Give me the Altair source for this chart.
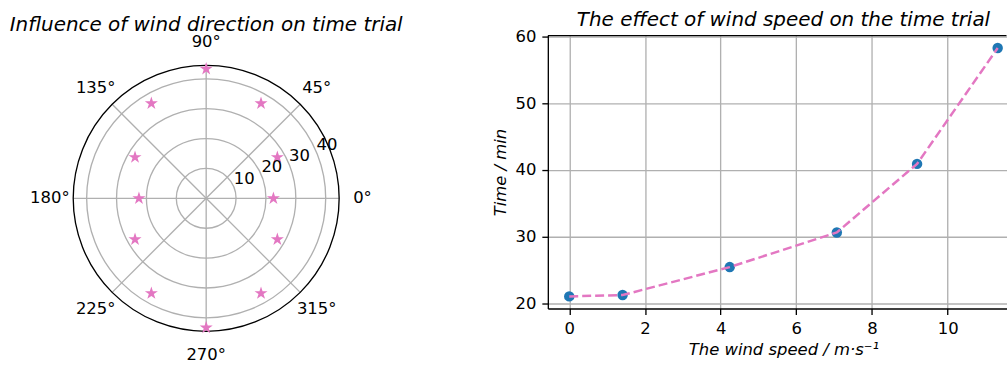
import math
import altair as alt
import pandas as pd

# ---------------- data ----------------
# left: polar plot (wind direction -> time)
dir_angles = [0, 30, 60, 90, 120, 150, 180, 210, 240, 270, 300, 330]
dir_times = [22.5, 27.5, 36.7, 43.3, 36.7, 27.5, 22.5, 27.5, 36.7, 43.3, 36.7, 27.5]
r_ticks = [10, 20, 30, 40]
r_tick_labels = ["10", "20", "30", "40"]
r_label_angle = [22.5, 22.5, 22.5, 22.5]
theta_ticks = [0, 45, 90, 135, 180, 225, 270, 315]
theta_tick_labels = ["0°", "45°", "90°", "135°", "180°", "225°", "270°", "315°"]
r_max = [44.5]
theta_label_r = [52.3] * 8

# right: wind speed -> time
speeds = [0.0, 1.41, 4.24, 7.07, 9.19, 11.32]
times = [21.0, 21.2, 25.4, 30.6, 40.9, 58.3]
x_ticks = [0, 2, 4, 6, 8, 10]
y_ticks = [20, 30, 40, 50, 60]

# ---------------- style ----------------
FONT = "DejaVu Sans"
GRID = "#b0b0b0"
AX = "#000000"
PINK = "#e377c2"
BLUE = "#1f77b4"
TXT = "#000000"
PX = 3.0  # pixels per radial unit
WP, HP = 400, 326.8
R = r_max[0]
CW, CH = 460.5, 274

# 5-pointed star symbol path
pts = []
for k in range(10):
    a = math.radians(-90 + 36 * k)
    rr = 1.0 if k % 2 == 0 else 0.382
    pts.append(f"{rr*math.cos(a):.4f},{rr*math.sin(a):.4f}")
STAR = "M" + " L".join(pts) + " Z"

xs_p = alt.Scale(domain=[-WP / 2 / PX, WP / 2 / PX], nice=False, zero=False)
ys_p = alt.Scale(domain=[-HP / 2 / PX, HP / 2 / PX], nice=False, zero=False)
rscale = alt.Scale(type="linear", domain=[0, R], range=[0, R * PX], zero=True, nice=False)

ring_df = pd.DataFrame({"r": r_ticks})
outer_df = pd.DataFrame({"r": r_max})
spoke_df = pd.DataFrame({"angle": theta_ticks, "r": [R] * len(theta_ticks)})
star_df = pd.DataFrame({"angle": dir_angles, "r": dir_times})
alab_df = pd.DataFrame({"angle": theta_ticks, "r": theta_label_r, "label": theta_tick_labels})
rlab_df = pd.DataFrame({"angle": r_label_angle, "r": r_ticks, "label": r_tick_labels})

def polar_xy(ch):
    return ch.transform_calculate(
        px="datum.r * cos(datum.angle * PI / 180)",
        py="datum.r * sin(datum.angle * PI / 180)",
    )

rings = alt.Chart(ring_df).mark_arc(filled=False, color=GRID, strokeWidth=1.33).encode(
    theta=alt.value(0), theta2=alt.value(6.2832),
    radius=alt.Radius("r:Q", scale=rscale, stack=False),
)
outer = alt.Chart(outer_df).mark_arc(filled=False, color=AX, strokeWidth=1.33).encode(
    theta=alt.value(0), theta2=alt.value(6.2832),
    radius=alt.Radius("r:Q", scale=rscale, stack=False),
)
spokes = polar_xy(alt.Chart(spoke_df)).transform_calculate(c0="0").mark_rule(
    color=GRID, strokeWidth=1.33
).encode(
    x=alt.X("c0:Q", scale=xs_p, axis=None),
    y=alt.Y("c0:Q", scale=ys_p, axis=None),
    x2="px:Q", y2="py:Q",
)
stars = polar_xy(alt.Chart(star_df)).mark_point(
    shape=STAR, filled=True, color=PINK, size=190, opacity=1
).encode(
    x=alt.X("px:Q", scale=xs_p, axis=None),
    y=alt.Y("py:Q", scale=ys_p, axis=None),
)
alabels = polar_xy(alt.Chart(alab_df)).mark_text(
    font=FONT, fontSize=16.5, color=TXT, align="center", baseline="middle"
).encode(
    x=alt.X("px:Q", scale=xs_p, axis=None),
    y=alt.Y("py:Q", scale=ys_p, axis=None),
    text="label:N",
)
rlabels = polar_xy(alt.Chart(rlab_df)).mark_text(
    font=FONT, fontSize=16.5, color=TXT, align="left", baseline="bottom"
).encode(
    x=alt.X("px:Q", scale=xs_p, axis=None),
    y=alt.Y("py:Q", scale=ys_p, axis=None),
    text="label:N",
)

TITLE_OFFSET = -21

polar = alt.layer(rings, spokes, outer, stars, alabels, rlabels).properties(
    width=WP, height=HP,
    title=alt.TitleParams(
        text="Influence of wind direction on time trial", font=FONT, fontSize=20,
        fontStyle="italic", fontWeight="normal", color=TXT, baseline="bottom",
        offset=TITLE_OFFSET, anchor="middle",
    ),
)

# ---------------- cartesian ----------------
speed_df = pd.DataFrame({"speed": speeds, "time": times})
xs = alt.Scale(domain=[-0.566, 11.553], nice=False, zero=False)
ys = alt.Scale(domain=[19.18, 60.17], nice=False, zero=False)

common = dict(
    domainColor=AX, domainWidth=1.33, tickColor=AX, tickWidth=1.33, tickSize=6,
    labelPadding=6, labelFont=FONT, labelFontSize=16.5, labelColor=TXT,
    titleFont=FONT, titleFontSize=16.5, titleFontStyle="italic", titleFontWeight="normal",
    titleColor=TXT, gridColor=GRID, gridWidth=1.33, grid=True,
)
y_axis = alt.Axis(values=y_ticks, title="Time / min", titlePadding=6, **common)
x_axis = alt.Axis(values=x_ticks, title="The wind speed / m·s⁻¹", titlePadding=5,
                  titleX=236.5, titleAlign="center", labelFlush=False, **common)

pts_layer = alt.Chart(speed_df).mark_circle(color=BLUE, size=110, opacity=1).encode(
    x=alt.X("speed:Q", scale=xs, axis=x_axis),
    y=alt.Y("time:Q", scale=ys, axis=y_axis),
)
line_layer = alt.Chart(speed_df).mark_line(
    color=PINK, strokeWidth=2.5, strokeDash=[9, 4]
).encode(
    x=alt.X("speed:Q", scale=xs),
    y=alt.Y("time:Q", scale=ys),
)
# top frame line of the axes box
top_frame = alt.Chart(speed_df.head(1)).mark_rule(color=AX, strokeWidth=1.33).encode(
    x=alt.value(0), x2=alt.value(CW), y=alt.value(0)
)

cart = alt.layer(pts_layer, line_layer, top_frame).properties(
    width=CW, height=CH,
    title=alt.TitleParams(
        text="The effect of wind speed on the time trial", font=FONT, fontSize=20,
        fontStyle="italic", fontWeight="normal", color=TXT, baseline="bottom",
        offset=TITLE_OFFSET, anchor="middle", dx=6.3,
    ),
)

chart = alt.hconcat(polar, cart, spacing=86).properties(
    padding={"left": 6, "top": 8, "right": 0, "bottom": 0},
    background="white",
).configure(font=FONT).configure_view(stroke="transparent")

chart.save("out.html", embed_options={"renderer": "svg", "actions": False})
